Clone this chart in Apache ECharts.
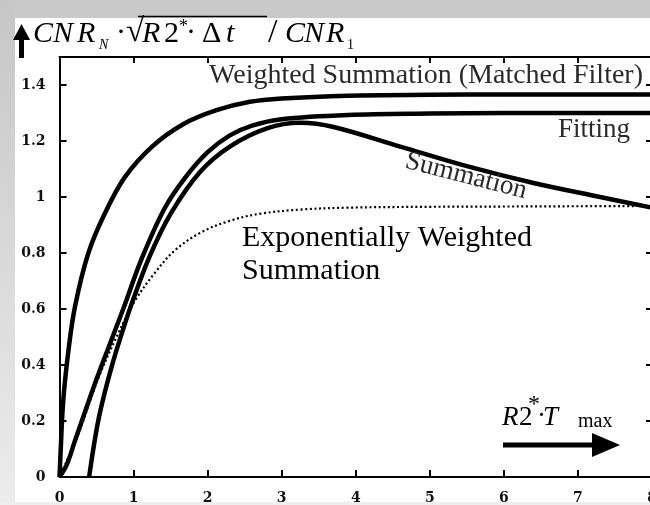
<!DOCTYPE html>
<html>
<head>
<meta charset="utf-8">
<script src="https://cdn.jsdelivr.net/npm/echarts@6/dist/echarts.min.js"></script>
<style>
html,body{margin:0;padding:0;background:#fff;}
#chart{width:650px;height:505px;}
</style>
</head>
<body>
<div id="chart"></div>
<script>
// ---- data ----
const xTicks = [0, 1, 2, 3, 4, 5, 6, 7, 8];
const yTicks = [0, 0.2, 0.4, 0.6, 0.8, 1, 1.2, 1.4];

// Weighted Summation (Matched Filter)
const wsX = [0, 0.01, 0.05, 0.12, 0.21, 0.39, 0.61, 0.88, 1.25, 1.67, 2.12, 2.57, 3.0, 3.9, 5, 6, 7, 8];
const wsY = [0, 0.06, 0.27, 0.45, 0.61, 0.80, 0.94, 1.07, 1.18, 1.26, 1.31, 1.34, 1.352, 1.362, 1.365, 1.366, 1.366, 1.366];

// Fitting
const fitX = [0, 0.1, 0.21, 0.48, 0.68, 0.86, 1.11, 1.42, 1.70, 2.0, 2.3, 2.6, 3.0, 3.9, 5, 6, 7, 8];
const fitY = [0, 0.045, 0.13, 0.335, 0.475, 0.60, 0.78, 0.96, 1.07, 1.16, 1.22, 1.255, 1.278, 1.293, 1.298, 1.30, 1.30, 1.30];

// Summation
const sumX = [0.40, 0.53, 0.70, 0.85, 0.99, 1.22, 1.50, 1.9, 2.3, 2.8, 3.25, 3.7, 4.6, 5.5, 6.4, 7.3, 8];
const sumY = [0, 0.21, 0.39, 0.52, 0.63, 0.79, 0.94, 1.09, 1.18, 1.245, 1.265, 1.25, 1.18, 1.11, 1.05, 1.0, 0.962];

// Exponentially Weighted Summation
const ewX = [0, 0.25, 0.52, 0.77, 1.02, 1.29, 1.56, 1.92, 2.3, 2.7, 3.25, 3.9, 5, 6, 7, 8];
const ewY = [0, 0.15, 0.35, 0.50, 0.63, 0.73, 0.81, 0.875, 0.915, 0.94, 0.955, 0.962, 0.965, 0.966, 0.967, 0.968];

const pairs = (xs, ys) => xs.map((x, i) => [x, ys[i]]);

const chart = echarts.init(document.getElementById('chart'), null, {renderer: 'canvas'});

const serif = 'Liberation Serif';
const labelFont = {fontFamily: 'DejaVu Serif', fontWeight: 'bold', fontSize: 14, color: '#111'};

function txt(text, x, y, o) {
  o = o || {};
  return {
    type: 'text', x: x, y: y, z: 100, rotation: o.rot || 0,
    style: {
      text: text, fill: o.color || '#000',
      font: (o.italic ? 'italic ' : '') + (o.size || 27) + 'px "' + serif + '"',
      textAlign: o.align || 'left', textVerticalAlign: o.va || 'middle'
    }
  };
}

const graphics = [
  // background frame
  {type: 'rect', z: -10, shape: {x: 0, y: 0, width: 650, height: 505}, style: {fill: '#ffffff'}},
  {type: 'rect', z: -9, shape: {x: 0, y: 0, width: 650, height: 18}, style: {fill: '#c9c9c9'}},
  {type: 'rect', z: -9, shape: {x: 0, y: 0, width: 15, height: 505},
    style: {fill: new echarts.graphic.LinearGradient(0, 0, 0, 1, [{offset: 0, color: '#c6c6c6'}, {offset: 1, color: '#ececec'}])}},
  {type: 'rect', z: -9, shape: {x: 0, y: 502, width: 650, height: 3}, style: {fill: '#eeeeee'}},

  // y-axis title: arrow + formula
  {type: 'polygon', z: 100, shape: {points: [[13, 40], [21.5, 24], [30, 40]]}, style: {fill: '#000'}},
  {type: 'rect', z: 100, shape: {x: 19, y: 38, width: 5, height: 20}, style: {fill: '#000'}},
  txt('C', 33, 34, {italic: true, size: 30}),
  txt('N', 53, 34, {italic: true, size: 30}),
  txt('R', 77, 34, {italic: true, size: 30}),
  txt('N', 99, 45, {italic: true, size: 14}),
  txt('·', 116, 33, {size: 30}),
  txt('√', 126, 32, {size: 33}),
  {type: 'line', z: 100, shape: {x1: 138, y1: 16.5, x2: 267, y2: 16.5}, style: {stroke: '#000', lineWidth: 1.5}},
  txt('R', 142, 34, {italic: true, size: 30}),
  txt('2', 164, 34, {size: 30}),
  txt('*', 179, 27, {size: 18}),
  txt('·', 186, 33, {size: 30}),
  txt('Δ', 202, 34, {size: 30}),
  txt('t', 226, 34, {italic: true, size: 30}),
  txt('/', 268, 33, {size: 34}),
  txt('C', 285, 34, {italic: true, size: 30}),
  txt('N', 304, 34, {italic: true, size: 30}),
  txt('R', 326, 34, {italic: true, size: 30}),
  txt('1', 347, 45, {size: 14}),

  // curve annotations
  txt('Weighted Summation (Matched Filter)', 643, 76, {size: 28, align: 'right', color: '#2a2a2a'}),
  txt('Fitting', 630, 130, {size: 27, align: 'right', color: '#2a2a2a'}),
  txt('Summation', 466, 176, {size: 27, align: 'center', color: '#2a2a2a', rot: -0.25}),
  txt('Exponentially Weighted', 242, 238, {size: 30}),
  txt('Summation', 242, 271, {size: 30}),

  // x-axis title with arrow
  txt('R', 502, 418, {italic: true, size: 27}),
  txt('2', 519, 418, {size: 27}),
  txt('*', 528, 405, {size: 24}),
  txt('·', 537, 417, {size: 27}),
  txt('T', 543, 418, {italic: true, size: 27}),
  txt('max', 578, 422, {size: 20}),
  {type: 'rect', z: 100, shape: {x: 503, y: 442.5, width: 92, height: 5}, style: {fill: '#000'}},
  {type: 'polygon', z: 100, shape: {points: [[592, 433], [620, 445], [592, 457]]}, style: {fill: '#000'}}
];

const axisLineStyle = {color: '#000', width: 2};

const option = {
  backgroundColor: 'transparent',
  animation: false,
  grid: {left: 59.5, right: -2, top: 57, bottom: 28, outerBoundsMode: 'none', containLabel: false},
  xAxis: [
    {type: 'value', min: xTicks[0], max: xTicks[xTicks.length - 1], interval: 1, position: 'bottom',
      axisLine: {onZero: false, lineStyle: axisLineStyle},
      axisTick: {inside: true, length: 7, lineStyle: {color: '#000', width: 2}},
      axisLabel: Object.assign({margin: 14}, labelFont),
      splitLine: {show: false}},
    {type: 'value', min: xTicks[0], max: xTicks[xTicks.length - 1], interval: 1, position: 'top',
      axisLine: {onZero: false, lineStyle: axisLineStyle},
      axisTick: {inside: true, length: 6, lineStyle: {color: '#000', width: 2}},
      axisLabel: {show: false}, splitLine: {show: false}}
  ],
  yAxis: [
    {type: 'value', min: 0, max: 1.5, interval: 0.2, position: 'left',
      axisLine: {onZero: false, lineStyle: axisLineStyle},
      axisTick: {inside: true, length: 7, lineStyle: {color: '#000', width: 2}},
      axisLabel: Object.assign({margin: 14, formatter: function (v) {
        const m = yTicks.find(t => Math.abs(t - v) < 1e-6);
        return m === undefined ? '' : String(m);
      }}, labelFont),
      splitLine: {show: false}},
    {type: 'value', min: 0, max: 1.5, interval: 0.2, position: 'right',
      axisLine: {onZero: false, lineStyle: axisLineStyle},
      axisTick: {inside: true, length: 6, lineStyle: {color: '#000', width: 2}},
      axisLabel: {show: false}, splitLine: {show: false}}
  ],
  series: [
    {name: 'Exponentially Weighted Summation', type: 'line', data: pairs(ewX, ewY), showSymbol: false,
      smooth: 0.35, lineStyle: {color: '#000', width: 2.2, type: [2, 2.6]}, z: 2},
    {name: 'Weighted Summation (Matched Filter)', type: 'line', data: pairs(wsX, wsY), showSymbol: false,
      smooth: 0.35, lineStyle: {color: '#000', width: 4.5}, z: 3},
    {name: 'Fitting', type: 'line', data: pairs(fitX, fitY), showSymbol: false,
      smooth: 0.35, lineStyle: {color: '#000', width: 4.5}, z: 3},
    {name: 'Summation', type: 'line', data: pairs(sumX, sumY), showSymbol: false,
      smooth: 0.35, lineStyle: {color: '#000', width: 4.5}, z: 3}
  ],
  graphic: graphics
};

chart.setOption(option);
</script>
</body>
</html>
